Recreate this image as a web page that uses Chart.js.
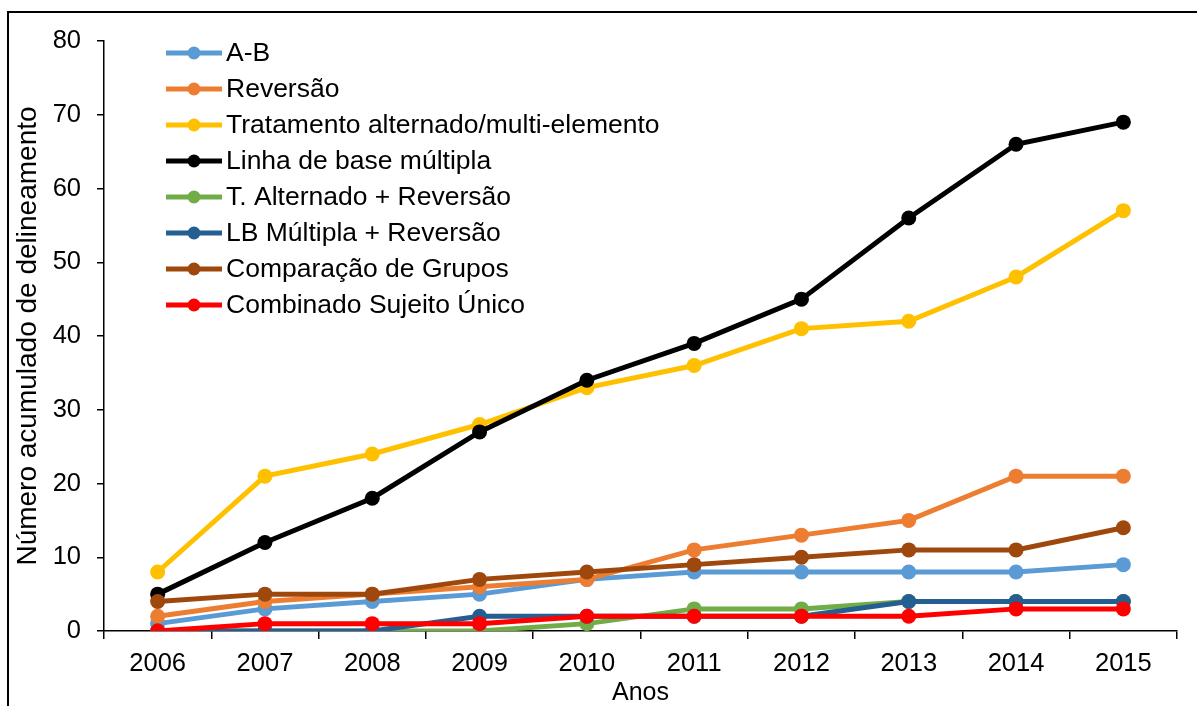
<!DOCTYPE html>
<html>
<head>
<meta charset="utf-8">
<script src="https://cdn.jsdelivr.net/npm/chart.js@4.4.1/dist/chart.umd.min.js"></script>
<style>
  html, body { margin: 0; padding: 0; background: #fff; }
  #wrap { width: 1197px; height: 706px; }
</style>
</head>
<body>
<div id="wrap"><canvas id="chart" width="1197" height="706"></canvas></div>
<script>
const years = ['2006', '2007', '2008', '2009', '2010', '2011', '2012', '2013', '2014', '2015'];
const seriesNames = [
  'A-B',
  'Reversão',
  'Tratamento alternado/multi-elemento',
  'Linha de base múltipla',
  'T. Alternado + Reversão',
  'LB Múltipla + Reversão',
  'Comparação de Grupos',
  'Combinado Sujeito Único'
];
const abVals          = [1, 3, 4, 5, 7, 8, 8, 8, 8, 9];
const reversaoVals    = [2, 4, 5, 6, 7, 11, 13, 15, 21, 21];
const tratamentoVals  = [8, 21, 24, 28, 33, 36, 41, 42, 48, 57];
const linhaBaseVals   = [5, 12, 18, 27, 34, 39, 45, 56, 66, 69];
const tAltRevVals     = [0, 0, 0, 0, 1, 3, 3, 4, 4, 4];
const lbMultRevVals   = [0, 0, 0, 2, 2, 2, 2, 4, 4, 4];
const gruposVals      = [4, 5, 5, 7, 8, 9, 10, 11, 11, 14];
const combinadoVals   = [0, 1, 1, 1, 2, 2, 2, 2, 3, 3];
const yTicks = [0, 10, 20, 30, 40, 50, 60, 70, 80];

const colors = ['#5B9BD5', '#ED7D31', '#FFC000', '#000000', '#70AD47', '#255E91', '#9E480E', '#FF0000'];
const allVals = [abVals, reversaoVals, tratamentoVals, linhaBaseVals, tAltRevVals, lbMultRevVals, gruposVals, combinadoVals];

const FONT = '"Liberation Sans", Arial, sans-serif';

const datasets = allVals.map((vals, i) => ({
  label: seriesNames[i],
  data: vals,
  borderColor: colors[i],
  backgroundColor: colors[i],
  borderWidth: 5,
  pointRadius: 7.5,
  pointHoverRadius: 7.5,
  pointBorderWidth: 0,
  tension: 0,
  fill: false,
  order: allVals.length - 1 - i   // later series on top, like the original
}));

// outer frame of the figure
const framePlugin = {
  id: 'frame',
  beforeDraw(chart) {
    const c = chart.ctx;
    c.save();
    c.fillStyle = '#fff';
    c.fillRect(0, 0, chart.width, chart.height);
    c.strokeStyle = '#000';
    c.lineWidth = 2;
    c.strokeRect(8, 12, chart.width + 20, chart.height + 20);
    c.restore();
  }
};

// vertical legend inside the plot, top-left
const legendPlugin = {
  id: 'vlegend',
  afterDatasetsDraw(chart) {
    const c = chart.ctx;
    c.save();
    c.font = '26.5px ' + FONT;
    c.textBaseline = 'middle';
    seriesNames.forEach((name, i) => {
      const y = 53 + i * 36;
      c.strokeStyle = colors[i];
      c.lineWidth = 5;
      c.beginPath();
      c.moveTo(166, y);
      c.lineTo(222, y);
      c.stroke();
      c.fillStyle = colors[i];
      c.beginPath();
      c.arc(194, y, 6.5, 0, Math.PI * 2);
      c.fill();
      c.fillStyle = '#000';
      c.fillText(name, 226, y + 1);
    });
    c.restore();
  }
};

new Chart(document.getElementById('chart'), {
  type: 'line',
  data: { labels: years, datasets: datasets },
  plugins: [framePlugin, legendPlugin],
  options: {
    responsive: false,
    animation: false,
    layout: { padding: { left: 7, right: 20, top: 41, bottom: 0 } },
    plugins: { legend: { display: false }, tooltip: { enabled: false } },
    scales: {
      x: {
        offset: true,
        grid: { drawOnChartArea: false, drawTicks: true, tickLength: 8, offset: true, color: '#000', lineWidth: 1.5 },
        border: { display: true, color: '#000', width: 1.5 },
        ticks: { color: '#000', font: { family: FONT, size: 25.5 }, padding: 10, maxRotation: 0 },
        title: { display: true, text: 'Anos', color: '#000', font: { family: FONT, size: 25, lineHeight: 1 }, padding: { top: 0, bottom: 0 } },
        afterFit(scale) { scale.height = 75; }
      },
      y: {
        min: 0,
        max: 80,
        afterBuildTicks(scale) { scale.ticks = yTicks.map(v => ({ value: v })); },
        grid: { drawOnChartArea: false, drawTicks: true, tickLength: 7, color: '#000', lineWidth: 1.5 },
        border: { display: true, color: '#000', width: 1.5 },
        ticks: { color: '#000', font: { family: FONT, size: 25.5 }, padding: 16 },
        title: { display: true, text: 'Número acumulado de delineamento', color: '#000', font: { family: FONT, size: 28 }, padding: { top: 4, bottom: 4 } },
        afterFit(scale) { scale.width = 97; }
      }
    }
  }
});
</script>
</body>
</html>
